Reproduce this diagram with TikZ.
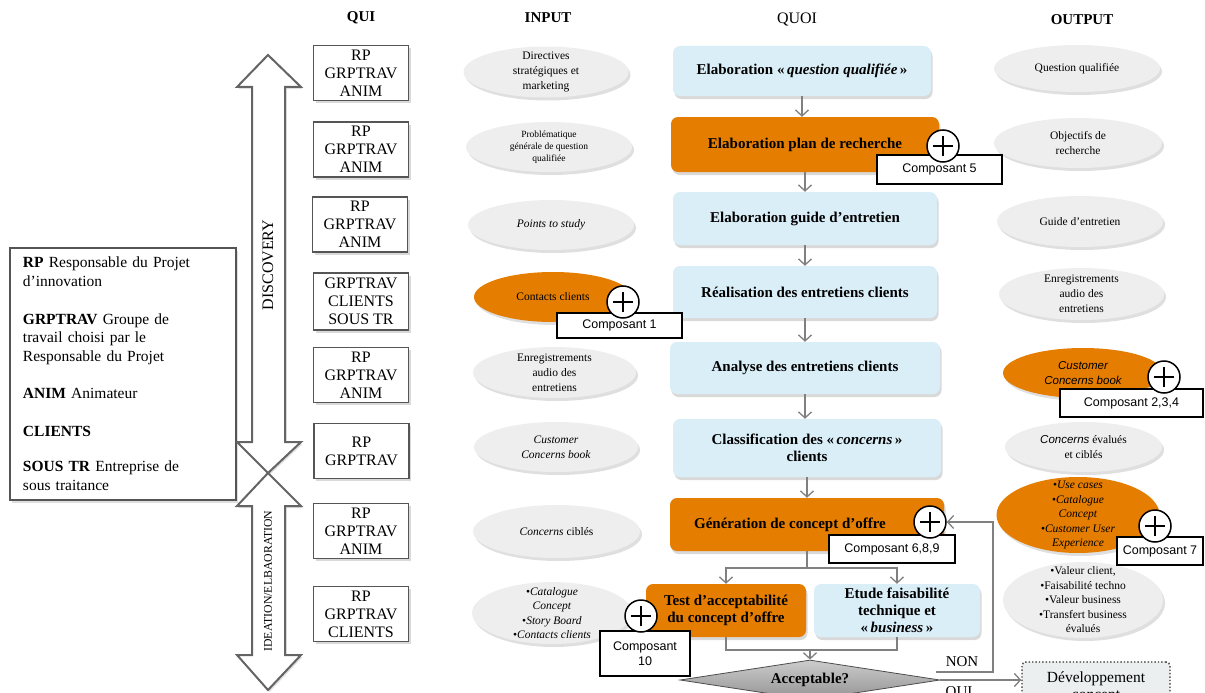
\documentclass[tikz,border=0pt]{standalone}
\usepackage{fontspec}
\setmainfont{Liberation Serif}
\setsansfont{Liberation Sans}
\usetikzlibrary{shapes.geometric, shadows, arrows.meta, calc}
\definecolor{orng}{RGB}{228,125,0}
\definecolor{lblue}{RGB}{218,238,248}
\definecolor{ellgray}{RGB}{238,238,238}
\definecolor{conngray}{RGB}{128,128,128}
\definecolor{arrgray}{RGB}{100,100,100}
\definecolor{quiborder}{RGB}{85,85,85}
\definecolor{devfill}{RGB}{236,239,239}
\tikzset{
  sz/.style 2 args={minimum width=#1pt, minimum height=#2pt},
  hdr/.style={font=\bfseries\fontsize{15}{17}\selectfont, inner sep=0pt},
  quibox/.style={draw=quiborder, line width=1.3pt, fill=white, minimum width=95pt, minimum height=55pt, inner sep=0pt, align=center, font=\fontsize{16}{18}\selectfont, drop shadow={shadow xshift=2pt, shadow yshift=-2.5pt, opacity=0.3}},
  ell/.style={ellipse, fill=ellgray, inner sep=0pt, drop shadow={shadow xshift=2pt, shadow yshift=-3pt, opacity=0.25}},
  oell/.style={ell, fill=orng},
  etxt/.style={align=center, inner sep=0pt, font=\fontsize{11.5}{15}\selectfont},
  etxtb/.style={etxt, font=\fontsize{11.5}{14.5}\selectfont},
  etxts/.style={etxt, font=\fontsize{9.5}{12}\selectfont},
  quoi/.style={rounded corners=7pt, inner sep=0pt, align=center, font=\bfseries\fontsize{15}{17}\selectfont, drop shadow={shadow xshift=1.5pt, shadow yshift=-3pt, opacity=0.3}},
  bbox/.style={quoi, fill=lblue},
  obox/.style={quoi, fill=orng},
  plus/.style={circle, draw=black, line width=1.5pt, fill=white, minimum size=32pt, inner sep=0pt,
    path picture={\draw[line width=1.5pt] ([xshift=-10pt]path picture bounding box.center) -- ([xshift=10pt]path picture bounding box.center) ([yshift=-10pt]path picture bounding box.center) -- ([yshift=10pt]path picture bounding box.center);}},
  comp/.style={draw=black, line width=1.5pt, fill=white, inner sep=0pt, align=center, font=\sffamily\fontsize{12.5}{15}\selectfont},
  conn/.style={draw=conngray, line width=1.3pt},
  arr/.style={conn, -{Straight Barb[length=6pt,width=13pt]}},
  bigarrow/.style={draw=arrgray, line width=2pt, fill=white, drop shadow={shadow xshift=1.5pt, shadow yshift=-2pt, opacity=0.25}},
  dia/.style={diamond, shape aspect=6.5, minimum width=260pt, minimum height=40pt, inner sep=0pt, draw=gray!60!black, line width=0.8pt, top color=gray!40, bottom color=gray!85, font=\bfseries\fontsize{15}{17}\selectfont},
  devbox/.style={draw=black!80, dotted, line width=1.4pt, rounded corners=4pt, fill=devfill, minimum width=148pt, minimum height=50pt, inner sep=0pt, align=center, font=\fontsize{15.5}{17}\selectfont},
  lbl/.style={inner sep=0pt, font=\fontsize{15}{17}\selectfont},
  legend/.style={draw=quiborder, line width=1.3pt, fill=white, minimum width=226pt, minimum height=252pt, text width=200pt, inner xsep=12pt, align=left, font=\fontsize{15.5}{18.7}\selectfont, drop shadow={shadow xshift=2pt, shadow yshift=-2.5pt, opacity=0.25}}
}
\begin{document}
\begin{tikzpicture}[x=1pt,y=-1pt]
\useasboundingbox (0,0) rectangle (1205,693);

% headers
\node[hdr] (hqui) at (361,18) {QUI};
\node[hdr] (hin) at (548,18) {INPUT};
\node[hdr, font=\fontsize{16}{18}\selectfont] (hquoi) at (797,20) {QUOI};
\node[hdr] (hout) at (1082,20) {OUTPUT};

% legend
\node[legend] (leg) at (123,374) {\textbf{RP} Responsable du Projet\\d’innovation\\[18.7pt]
\textbf{GRPTRAV} Groupe de\\travail choisi par le\\Responsable du Projet\\[18.7pt]
\textbf{ANIM} Animateur\\[18.7pt]
\textbf{CLIENTS}\\[17pt]
\textbf{SOUS TR} Entreprise de\\sous traitance};

% big double arrows
\path[bigarrow] (268,55) -- (301,87) -- (285,87) -- (285,442) -- (301,442) -- (268,473) -- (237,442) -- (252,442) -- (252,87) -- (237,87) -- cycle;
\path[bigarrow] (268,473) -- (301,506) -- (285,506) -- (285,655) -- (301,655) -- (268,690) -- (237,655) -- (252,655) -- (252,506) -- (237,506) -- cycle;
\node[rotate=90, inner sep=0pt, font=\fontsize{16}{18}\selectfont] (disc) at (268,265) {DISCOVERY};
\node[rotate=90, inner sep=0pt, font=\fontsize{11.8}{14}\selectfont] (idea) at (268,581) {IDEATION/ELBAORATION};

% QUI boxes
\node[quibox] (q1) at (361,73) {RP\\GRPTRAV\\ANIM};
\node[quibox] (q2) at (361,149.5) {RP\\GRPTRAV\\ANIM};
\node[quibox] (q3) at (360,224.5) {RP\\GRPTRAV\\ANIM};
\node[quibox, minimum height=57pt] (q4) at (361,301.5) {GRPTRAV\\CLIENTS\\SOUS TR};
\node[quibox] (q5) at (361,375) {RP\\GRPTRAV\\ANIM};
\node[quibox] (q6) at (361.5,451) {RP\\GRPTRAV};
\node[quibox] (q7) at (361,531) {RP\\GRPTRAV\\ANIM};
\node[quibox] (q8) at (361,614) {RP\\GRPTRAV\\CLIENTS};

% INPUT ellipses
\node[ell, sz={165}{51}, label={[etxt]center:{Directives\\stratégiques et\\marketing}}] (i1) at (546,72) {};
\node[ell, sz={166}{50}, label={[etxts]center:{Problématique\\générale de question\\qualifiée}}] (i2) at (549,147) {};
\node[ell, sz={166}{50}, label={[etxt]center:{\textit{Points to study}}}] (i3) at (551,225) {};
\node[oell, sz={158}{50}, label={[etxt]center:{Contacts clients}}] (i4) at (553,297) {};
\node[ell, sz={163}{51}, label={[etxt]center:{Enregistrements\\audio des\\entretiens}}] (i5) at (554.5,372.5) {};
\node[ell, sz={164}{50}, label={[etxt]center:{\textit{Customer}\\\textit{Concerns book}}}] (i6) at (556,447) {};
\node[ell, sz={167}{53}, label={[etxt]center:{\textit{Concerns} ciblés}}] (i7) at (556.5,531.5) {};
\node[ell, sz={160}{62}, label={[etxtb]center:{•\textit{Catalogue}\\\textit{Concept}\\•\textit{Story Board}\\•\textit{Contacts clients}}}] (i8) at (552,613) {};

% OUTPUT ellipses
\node[ell, sz={166}{47}, label={[etxt]center:{Question qualifiée}}] (o1) at (1077,68.5) {};
\node[ell, sz={168}{50}, label={[etxt]center:{Objectifs de\\recherche}}] (o2) at (1078,143) {};
\node[ell, sz={166}{51}, label={[etxt]center:{Guide d’entretien}}] (o3) at (1080,221.5) {};
\node[ell, sz={165}{52}, label={[etxt]center:{Enregistrements\\audio des\\entretiens}}] (o4) at (1081.5,294) {};
\node[oell, sz={160}{50}, label={[etxt]center:{\sffamily\itshape Customer\\\sffamily\itshape Concerns book}}] (o5) at (1083,373) {};
\node[ell, sz={157}{50}, label={[etxt]center:{\textsf{\textit{Concerns}} évalués\\et ciblés}}] (o6) at (1083.5,447) {};
\node[oell, sz={163}{76}, label={[etxtb]center:{•\textit{Use cases}\\•\textit{Catalogue}\\\textit{Concept}\\•\textit{Customer User}\\\textit{Experience}}}] (o7) at (1078,515) {};
\node[ell, sz={160}{76}, label={[etxtb]center:{•Valeur client,\\•Faisabilité techno\\•Valeur business\\•Transfert business\\évalués}}] (o8) at (1083,600) {};

% QUOI boxes
\node[bbox, sz={258}{50}] (b1) at (802,71) {Elaboration «\,\textit{question qualifiée}\,»};
\node[obox, sz={268}{55}] (b2) at (805,144.5) {Elaboration plan de recherche};
\node[bbox, sz={264}{53}] (b3) at (805,218.5) {Elaboration guide d’entretien};
\node[bbox, sz={264}{52}] (b4) at (805,292) {Réalisation des entretiens clients};
\node[bbox, sz={270}{52}] (b5) at (805,368) {Analyse des entretiens clients};
\node[bbox, sz={268}{58}] (b6) at (807,448) {Classification des «\,\textit{concerns}\,»\\clients};
\node[obox, sz={274}{53}] (b7) at (807,524.5) {Génération de concept d’offre\hspace*{34pt}};
\node[obox, sz={160}{53}] (b8) at (726,610.5) {Test d’acceptabilité\\du concept d’offre};
\node[bbox, sz={166}{53}] (b9) at (897,610.5) {Etude faisabilité\\technique et\\«\,\textit{business}\,»};

% decision and end box
\node[dia] (dia) at (810,680) {Acceptable?};
\node[devbox] (dev) at (1096,687) {Développement\\concept};

% connectors
\draw[arr] (b1.south) -- (b1.south |- b2.north);
\draw[arr] (b2.south) -- (b2.south |- b3.north);
\draw[arr] (b3.south) -- (b3.south |- b4.north);
\draw[arr] (b4.south) -- (b4.south |- b5.north);
\draw[arr] (b5.south) -- (b5.south |- b6.north);
\draw[arr] (b6.south) -- (b6.south |- b7.north);
\coordinate (split) at (807,568);
\draw[conn] (b7.south) -- (split);
\draw[arr] (split) -| (b8.north);
\draw[arr] (split) -| (b9.north);
\coordinate (join) at (810,650);
\draw[conn] (b8.south) |- (join);
\draw[conn] (b9.south) |- (join);
\draw[arr] (join) -- (dia.north);
\draw[arr] (dia.east) -- (dia.east -| dev.west);
\coordinate (nonc) at (993,672);
\node[lbl] (non) at (962,662) {NON};
\node[lbl] (oui) at (959,692) {OUI};

% composant boxes and plus circles
\node[comp, sz={125}{29}] (c5) at (939.5,169.5) {Composant 5};
\node[plus] (p5) at (943,146) {};
\node[comp, sz={125}{25}] (c1) at (619.5,325.5) {Composant 1};
\node[plus] (p1) at (623,302) {};
\node[comp, sz={143}{28}] (c234) at (1131.5,403) {Composant 2,3,4};
\node[plus] (p234) at (1164,377) {};
\node[comp, sz={126}{28}] (c689) at (892,549) {Composant 6,8,9};
\node[plus] (p689) at (930,522) {};
\node[comp, sz={86}{28}] (c7) at (1160,551) {Composant 7};
\node[plus] (p7) at (1155,526) {};
\node[comp, sz={90}{45}] (c10) at (645,653.5) {Composant\\10};
\node[plus] (p10) at (641,616) {};

\draw[arr] ([xshift=-4pt]dia.east |- nonc) -- (nonc) |- (p689.east);
\end{tikzpicture}
\end{document}
